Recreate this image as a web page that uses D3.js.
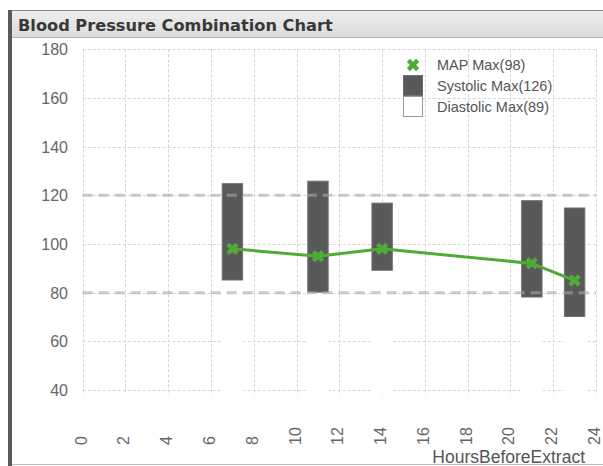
<!DOCTYPE html>
<html>
<head>
<meta charset="utf-8">
<script src="https://cdn.jsdelivr.net/npm/d3@7"></script>
<style>
body { margin: 0; background: #fff; }
text { font-family: "Liberation Sans", Arial, sans-serif; }
</style>
</head>
<body>
<div id="chart"></div>
<script>
// chart data
var hours = [7, 11, 14, 21, 23]
var systolic = [125, 126, 117, 118, 115]
var diastolic = [85, 80, 89, 78, 70]
var mapValues = [98, 95, 98, 92, 85]
var refLines = [80, 120]
var xTicks = d3.range(0, 25, 2)
var yTicks = d3.range(40, 181, 20)
var legendLabels = ["MAP Max(98)", "Systolic Max(126)", "Diastolic Max(89)"]
var titleText = "Blood Pressure Combination Chart"
var xTitle = "HoursBeforeExtract"

var svgSize = {width: 603, height: 466}
var plot = {left: 82.7, right: 596, top: 49.3, bottom: 390}

var green = "#4fab38"

var svg = d3.select("#chart").append("svg")
    .attr("width", svgSize.width)
    .attr("height", svgSize.height)

// frame + title bar
var grad = svg.append("defs").append("linearGradient")
    .attr("id", "titleGrad").attr("x1", 0).attr("x2", 0).attr("y1", 0).attr("y2", 1)
grad.append("stop").attr("offset", "0%").attr("stop-color", "#eeeeee")
grad.append("stop").attr("offset", "100%").attr("stop-color", "#dcdcdc")

svg.append("rect").attr("x", 12).attr("y", 11).attr("width", 591).attr("height", 26)
    .attr("fill", "url(#titleGrad)")
svg.append("line").attr("x1", 8).attr("x2", 603).attr("y1", 10.5).attr("y2", 10.5)
    .attr("stroke", "#8a8a8a")
svg.append("line").attr("x1", 12).attr("x2", 603).attr("y1", 37.5).attr("y2", 37.5)
    .attr("stroke", "#b5b5b5")
svg.append("line").attr("x1", 12).attr("x2", 603).attr("y1", 464.5).attr("y2", 464.5)
    .attr("stroke", "#bdbdbd")
svg.append("rect").attr("x", 8).attr("y", 10).attr("width", 4).attr("height", 456)
    .attr("fill", "#5a5a5a")

svg.append("text").attr("x", 18).attr("y", 31)
    .style("font-family", "'DejaVu Sans', Verdana, sans-serif")
    .style("font-weight", "bold").style("font-size", "16.2px")
    .attr("fill", "#383838")
    .text(titleText)

// scales
var xScale = d3.scaleLinear().domain([0, 24]).range([plot.left, plot.right])
var yScale = d3.scaleLinear().domain([40, 180]).range([plot.bottom, plot.top])

// grid
var grid = svg.append("g").attr("stroke", "#d6d6d6").attr("stroke-dasharray", "3,2")
grid.selectAll(".hg").data(yTicks).enter().append("line")
    .attr("x1", plot.left).attr("x2", plot.right)
    .attr("y1", d => Math.round(yScale(d)) + 0.5).attr("y2", d => Math.round(yScale(d)) + 0.5)
grid.selectAll(".vg").data(xTicks).enter().append("line")
    .attr("x1", d => Math.round(xScale(d)) + 0.5).attr("x2", d => Math.round(xScale(d)) + 0.5)
    .attr("y1", plot.top).attr("y2", plot.bottom + 5)

// axis labels
svg.append("g").selectAll("text").data(yTicks).enter().append("text")
    .attr("x", 68).attr("y", d => yScale(d) + 6)
    .attr("text-anchor", "end").attr("fill", "#666").style("font-size", "16px")
    .text(d => d)

svg.append("g").selectAll("text").data(xTicks).enter().append("text")
    .attr("transform", d => `translate(${xScale(d) + 4}, 445) rotate(-90)`)
    .attr("text-anchor", "start").attr("fill", "#666").style("font-size", "16px")
    .text(d => d)

svg.append("text").attr("x", 585).attr("y", 463)
    .attr("text-anchor", "end").attr("fill", "#555").style("font-size", "17.5px")
    .text(xTitle)

// bars
var barW = xScale(1) - xScale(0)
var bars = svg.append("g")
bars.selectAll(".dia").data(hours).enter().append("rect")
    .attr("x", d => xScale(d) - barW / 2).attr("width", barW)
    .attr("y", (d, i) => yScale(diastolic[i]))
    .attr("height", (d, i) => yScale(40) + 2 - yScale(diastolic[i]))
    .attr("fill", "#fff")
bars.selectAll(".sys").data(hours).enter().append("rect")
    .attr("x", d => xScale(d) - barW / 2 + 0.5).attr("width", barW - 1)
    .attr("y", (d, i) => yScale(systolic[i]) + 0.5)
    .attr("height", (d, i) => yScale(diastolic[i]) - yScale(systolic[i]) - 1)
    .attr("fill", "#595959").attr("stroke", "#707070")

// reference lines
svg.append("g").selectAll("line").data(refLines).enter().append("line")
    .attr("x1", plot.left).attr("x2", plot.right)
    .attr("y1", d => yScale(d)).attr("y2", d => yScale(d))
    .attr("stroke", "#a8a8a8").attr("stroke-opacity", 0.6)
    .attr("stroke-width", 3).attr("stroke-dasharray", "10,6")

// MAP line
var pts = hours.map((h, i) => [h, mapValues[i]])
svg.append("path").datum(pts)
    .attr("d", d3.line().x(d => xScale(d[0])).y(d => yScale(d[1])))
    .attr("fill", "none").attr("stroke", green).attr("stroke-width", 3)

var marker = d3.symbol().type(d3.symbolCross).size(95)
svg.append("g").selectAll("path").data(pts).enter().append("path")
    .attr("transform", d => `translate(${xScale(d[0])}, ${yScale(d[1])}) rotate(45)`)
    .attr("d", marker).attr("fill", green)

// legend
var legend = svg.append("g")
legend.append("path").attr("transform", "translate(413, 65) rotate(45)")
    .attr("d", marker).attr("fill", green)
legend.append("rect").attr("x", 403.5).attr("y", 75.5).attr("width", 19).attr("height", 20)
    .attr("fill", "#595959").attr("stroke", "#707070")
legend.append("rect").attr("x", 403.5).attr("y", 96.5).attr("width", 19).attr("height", 20)
    .attr("fill", "#fff").attr("stroke", "#9a9a9a")
legend.selectAll("text").data(legendLabels).enter().append("text")
    .attr("x", 437).attr("y", (d, i) => 70 + i * 21)
    .attr("fill", "#555").style("font-size", "14.5px")
    .text(d => d)
</script>
</body>
</html>
